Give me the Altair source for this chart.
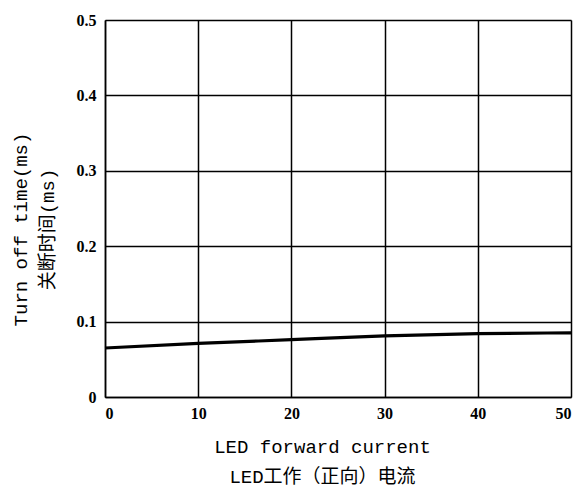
import altair as alt
import pandas as pd

current = [0, 10, 20, 30, 40, 50]
turn_off = [0.065, 0.071, 0.076, 0.081, 0.084, 0.085]

df = pd.DataFrame({"current": current, "time": turn_off})

TITLE_FONT = "Liberation Mono, Noto Sans CJK SC"
LABEL_FONT = "Liberation Serif"

chart = alt.Chart(df).mark_line(color="black", strokeWidth=3.2, interpolate="monotone").encode(
    x=alt.X("current:Q",
            scale=alt.Scale(domain=[0, 50], nice=False),
            axis=alt.Axis(values=[0, 10, 20, 30, 40, 50],
                          title=["LED forward current", "LED工作（正向）电流"],
                          titleFontSize=19, titleFont=TITLE_FONT, titleFontWeight="normal",
                          titleColor="black", titlePadding=16, titleLineHeight=30,
                          titleX=217,
                          labelFont=LABEL_FONT, labelFontSize=16, labelColor="black",
                          labelFontWeight="bold", labelPadding=8,
                          ticks=False, grid=True, gridColor="black", gridWidth=1.5,
                          domainColor="black", domainWidth=1.5)),
    y=alt.Y("time:Q",
            scale=alt.Scale(domain=[0, 0.5], nice=False),
            axis=alt.Axis(values=[0, 0.1, 0.2, 0.3, 0.4, 0.5],
                          labelExpr="datum.value == 0 ? '0' : format(datum.value, '.1f')",
                          title=["Turn off time(ms)", "关断时间(ms)"],
                          titleFontSize=19, titleFont=TITLE_FONT, titleFontWeight="normal",
                          titleColor="black", titlePadding=19, titleLineHeight=27,
                          titleY=209,
                          labelFont=LABEL_FONT, labelFontSize=16, labelColor="black",
                          labelFontWeight="bold", labelPadding=9,
                          ticks=False, grid=True, gridColor="black", gridWidth=1.5,
                          domainColor="black", domainWidth=1.5)),
).properties(
    width=466, height=377,
    autosize=alt.AutoSizeParams(type="none"),
    padding={"left": 97, "top": 12, "right": 4, "bottom": 90},
).configure_view(stroke="black", strokeWidth=1.5).configure(background="white")

chart.save("out.html", embed_options={"renderer": "svg", "actions": False})
